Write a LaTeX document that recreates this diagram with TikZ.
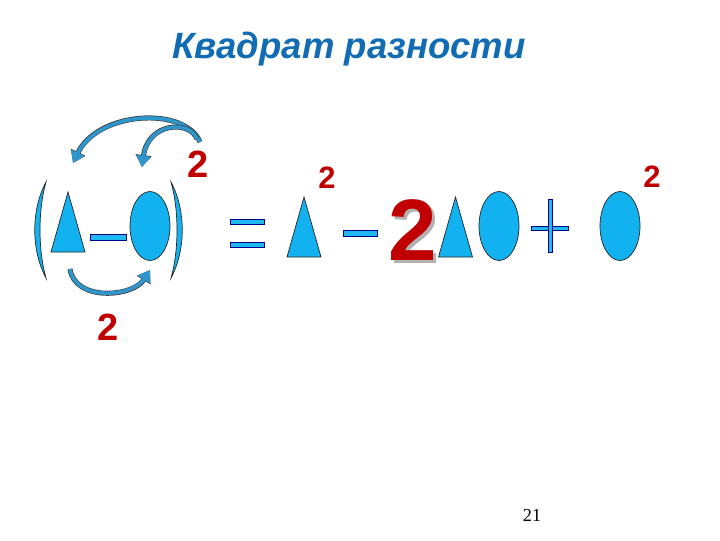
\documentclass[tikz,border=0pt]{standalone}
\usepackage{fontspec}
\setmainfont{Liberation Sans}
\newfontfamily\numfont{Liberation Serif}
\usetikzlibrary{arrows.meta}
\definecolor{shapeblue}{RGB}{18,178,240}
\definecolor{barblue}{RGB}{30,185,240}
\definecolor{arrowblue}{RGB}{45,150,205}
\definecolor{titleblue}{RGB}{18,108,180}
\definecolor{twored}{RGB}{192,0,0}
\tikzset{
	figure/.style = {fill=shapeblue, draw=black!85, line width=0.5pt},
	bar/.style = {fill=barblue, draw=blue!55!black, line width=0.4pt},
	power/.style = {text=twored, font=\bfseries\fontsize{27}{27}\selectfont},
	bendarrow/.style = {draw=arrowblue, line width=2.6pt, -{Triangle[length=8pt,width=10pt]},
	 preaction={draw=black!75, line width=3.6pt, -{Triangle[length=8.5pt,width=11pt]}}},
	tri/.pic = {
	 \draw [figure] (-17,0) -- (17,0) -- (0,-60) -- cycle;},
	oval/.pic = {
	 \draw [figure] (0,0) ellipse [x radius=20, y radius=34.5];}
}

\begin{document}
\begin{tikzpicture}[x=0.025cm, y=-0.025cm]
\useasboundingbox (0,0) rectangle (720,540);

% TITLE
\node (title) at (349,49) {\textcolor{titleblue}{\bfseries\itshape\fontsize{26}{26}\selectfont Квадрат разности}};

% LEFT SIDE
% brackets
\draw [figure] (46,182) .. controls (31,210) and (31,250) .. (46,278) .. controls (38,250) and (38,210) .. (46,182) -- cycle;
\draw [figure] (171,182) .. controls (186,210) and (186,250) .. (171,278) .. controls (179,250) and (179,210) .. (171,182) -- cycle;
\pic (ltri) at (68,252) {tri};
\draw [bar] (90,234) rectangle (126,240);
\pic (loval) at (150,226) {oval};
\node (lsq) [power] at (198,164) {2};
\node (ltwo) [power] at (108,327) {2};

% arrows
\coordinate (topstart) at (200,142);
\coordinate (topend) at (73,163);
\coordinate (smallstart) at (197,139);
\coordinate (smallend) at (142,167);
\coordinate (lowstart) at (70,269);
\coordinate (lowend) at (150,270);
\draw [bendarrow] (topstart) .. controls (185,106) and (98,111) .. (topend);
\draw [bendarrow] (smallstart) .. controls (190,120) and (148,122) .. (smallend);
\draw [bendarrow] (lowstart) .. controls (75,302) and (133,297) .. (lowend);

% RIGHT SIDE
\draw [bar] (230,219) rectangle (264,224);
\draw [bar] (230,242) rectangle (264,247);
\pic (rtri) at (304,257) {tri};
\node (rsq) [power, font=\bfseries\fontsize{22}{22}\selectfont] at (327,178) {2};
\draw [bar] (343,230) rectangle (377,236);
\node (shadow) [text=black!30, font=\bfseries\fontsize{62}{62}\selectfont] at (416,233) {2};
\node (bigtwo) [power, font=\bfseries\fontsize{62}{62}\selectfont] at (413,230) {2};
\pic (mtri) at (455.5,257) {tri};
\pic (moval) at (499,226) {oval};
\draw [bar] (531,226) rectangle (568,230);
\draw [bar] (548,199) rectangle (552,252);
\pic (roval) at (620,226) {oval};
\node (osq) [power, font=\bfseries\fontsize{22}{22}\selectfont] at (652,177) {2};

% page number
\node (page) at (532,515) {\numfont\fontsize{13}{13}\selectfont 21};

\end{tikzpicture}
\end{document}
